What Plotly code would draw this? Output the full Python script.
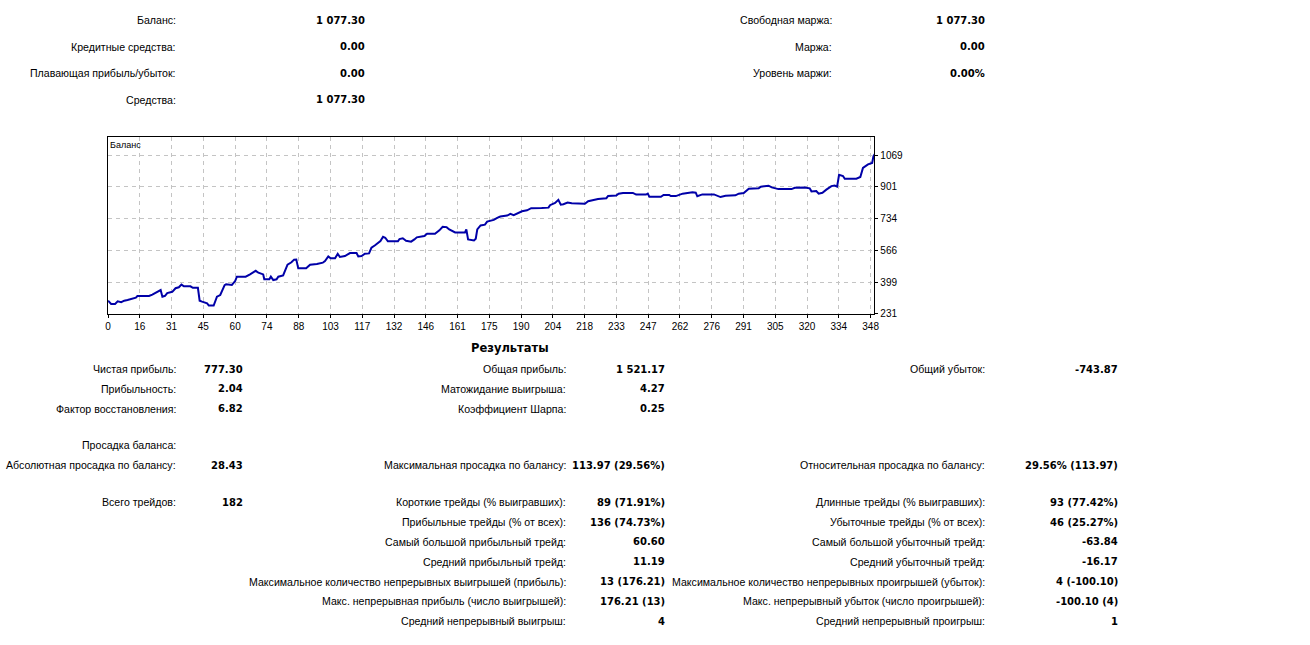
import plotly.graph_objects as go

# balance curve (trade index, balance)
trade_no = [0, 1.4, 3.2, 4.4, 6.0, 7.4, 8.9, 11.2, 12.7, 13.4, 18.7, 20.2, 22.5, 24.0, 24.8,
            26.0, 27.0, 29.3, 30.8, 32.3, 33.5, 34.6, 37.6, 38.7, 41.0, 41.8, 42.9, 45.2,
            46.0, 48.2, 49.7, 51.2, 53.2, 53.9, 56.5, 58.0, 58.8, 62.8, 64.8, 67.4, 68.6,
            70.8, 71.3, 73.6, 74.3, 75.4, 76.9, 77.7, 79.9, 81.1, 81.9, 83.7, 84.9, 85.9,
            86.8, 90.4, 92.2, 95.3, 98.0, 99.0, 100.5, 101.6, 103.6, 104.8, 105.8, 108.1,
            110.4, 113.4, 114.2, 115.7, 117.2, 119.1, 120.2, 121.7, 123.2, 124.3, 125.5,
            126.5, 127.7, 132.3, 133.0, 134.5, 136.0, 138.3, 139.8, 140.9, 144.3, 145.6,
            149.2, 151.2, 152.7, 154.5, 155.7, 158.4, 162.9, 163.5, 164.3, 167.0, 167.8,
            168.5, 170.0, 172.0, 173.0, 174.5, 176.0, 177.6, 179.0, 182.1, 183.6, 185.1,
            186.6, 188.9, 191.2, 193.1, 197.9, 201.0, 201.7, 204.0, 205.5, 206.6, 207.8,
            209.7, 211.6, 217.6, 219.1, 222.1, 223.6, 227.4, 228.2, 231.9, 233.0, 235.0,
            239.5, 241.0, 245.5, 246.3, 247.0, 252.3, 253.5, 256.1, 256.8, 259.1, 262.2,
            266.7, 268.2, 268.9, 271.2, 276.5, 278.0, 279.5, 281.8, 286.3, 287.8, 290.1,
            292.4, 296.9, 297.9, 301.4, 302.9, 305.9, 311.9, 313.4, 317.9, 320.2, 321.0,
            323.2, 324.3, 326.0, 327.8, 330.1, 331.6, 332.7, 333.6, 335.4, 336.2, 341.5,
            343.3, 344.5, 346.8, 348.7, 349.3, 350.0]
balance = [300, 283, 283, 297, 292, 300, 304, 312, 316, 325, 325, 332, 349, 356, 321,
           326, 340, 347, 366, 371, 385, 376, 376, 368, 368, 300, 295, 286,
           274, 274, 321, 330, 382, 387, 383, 404, 427, 427, 439, 458, 448,
           439, 413, 413, 427, 409, 413, 427, 434, 465, 491, 503, 517, 518,
           471, 471, 490, 494, 501, 510, 534, 524, 524, 548, 531, 536,
           552, 552, 534, 536, 548, 550, 580, 592, 607, 615, 638,
           633, 614, 614, 626, 630, 617, 612, 624, 635, 642, 654,
           654, 672, 691, 689, 677, 661, 661, 677, 624, 619, 628,
           677, 698, 702, 718, 723, 727, 738, 745, 750, 759, 752,
           760, 773, 778, 789, 790, 792, 805, 817, 833, 808, 810,
           819, 815, 813, 826, 833, 838, 842, 854, 856, 866, 870,
           870, 861, 861, 866, 850, 849, 859, 859, 853, 853, 866,
           873, 871, 852, 862, 862, 853, 848, 855, 857, 866, 869,
           892, 894, 903, 908, 899, 890, 890, 897, 899, 894, 878,
           880, 866, 871, 887, 906, 909, 903, 966, 959, 945, 945,
           954, 1002, 1021, 1028, 1064, 1077]

x_tick_labels = ["0", "16", "31", "45", "60", "74", "88", "103", "117", "132", "146", "161",
                 "175", "190", "204", "218", "233", "247", "262", "276", "291", "305", "320",
                 "334", "348"]
y_tick_labels = ["231", "399", "566", "734", "901", "1069"]

# account summary
acc_left_labels = ["Баланс:", "Кредитные средства:", "Плавающая прибыль/убыток:", "Средства:"]
acc_left_values = ["1 077.30", "0.00", "0.00", "1 077.30"]
acc_right_labels = ["Свободная маржа:", "Маржа:", "Уровень маржи:"]
acc_right_values = ["1 077.30", "0.00", "0.00%"]

# results, three columns; None = empty cell
res_rows = [
    ("Чистая прибыль:", "777.30", "Общая прибыль:", "1 521.17", "Общий убыток:", "-743.87"),
    ("Прибыльность:", "2.04", "Матожидание выигрыша:", "4.27", None, None),
    ("Фактор восстановления:", "6.82", "Коэффициент Шарпа:", "0.25", None, None),
    ("Просадка баланса:", None, None, None, None, None),
    ("Абсолютная просадка по балансу:", "28.43", "Максимальная просадка по балансу:",
     "113.97 (29.56%)", "Относительная просадка по балансу:", "29.56% (113.97)"),
    ("Всего трейдов:", "182", "Короткие трейды (% выигравших):", "89 (71.91%)",
     "Длинные трейды (% выигравших):", "93 (77.42%)"),
    (None, None, "Прибыльные трейды (% от всех):", "136 (74.73%)",
     "Убыточные трейды (% от всех):", "46 (25.27%)"),
    (None, None, "Самый большой прибыльный трейд:", "60.60",
     "Самый большой убыточный трейд:", "-63.84"),
    (None, None, "Средний прибыльный трейд:", "11.19", "Средний убыточный трейд:", "-16.17"),
    (None, None, "Максимальное количество непрерывных выигрышей (прибыль):", "13 (176.21)",
     "Максимальное количество непрерывных проигрышей (убыток):", "4 (-100.10)"),
    (None, None, "Макс. непрерывная прибыль (число выигрышей):", "176.21 (13)",
     "Макс. непрерывный убыток (число проигрышей):", "-100.10 (4)"),
    (None, None, "Средний непрерывный выигрыш:", "4", "Средний непрерывный проигрыш:", "1"),
]

W, H = 1310, 645
FONT = "Liberation Sans, Arial, sans-serif"
BOLD_FONT = "DejaVu Sans, Verdana, sans-serif"

x_step = 14.5
y_step = 167.6
x_ticks = [i * x_step for i in range(len(x_tick_labels))]
y_ticks = [231 + i * y_step for i in range(len(y_tick_labels))]

fig = go.Figure()
fig.add_trace(go.Scatter(x=trade_no, y=balance, mode="lines",
                         line=dict(color="#0000a8", width=2), hoverinfo="skip"))

ann = []


def txt(px, py, s, bold=False, anchor="right", size=None):
    if bold:
        f = dict(family=BOLD_FONT, size=size or 10, color="black")
        s = f"<b>{s}</b>"
    else:
        f = dict(family=FONT, size=size or 10.6, color="black")
    ann.append(dict(x=px / W, y=1 - py / H, xref="paper", yref="paper",
                    text=s, showarrow=False, borderpad=0, borderwidth=0,
                    xanchor=anchor, yanchor="middle", font=f))


for i, (lab, val) in enumerate(zip(acc_left_labels, acc_left_values)):
    txt(174, 20.5 + 26.7 * i, lab)
    txt(364, 20.5 + 26.7 * i, val, bold=True)
for i, (lab, val) in enumerate(zip(acc_right_labels, acc_right_values)):
    txt(834, 20.5 + 26.7 * i, lab)
    txt(988, 20.5 + 26.7 * i, val, bold=True)

txt(510, 351, "Результаты", bold=True, anchor="center", size=11.5)

row_y = [372.5, 392.5, 412.5, 449.5, 469.5, 507, 527, 547, 567, 587, 607, 627]
col_x = [174, 241, 566, 666, 988, 1122]
for ry, row in zip(row_y, res_rows):
    for j, cell in enumerate(row):
        if cell is not None:
            txt(col_x[j], ry, cell, bold=(j % 2 == 1))

# chart caption inside the plot
txt(108, 146, "Баланс", anchor="left", size=9)

grid = dict(showgrid=True, gridcolor="#c4c4c4", griddash="4px,4px", gridwidth=1,
            showline=True, linecolor="black", linewidth=1, mirror=True,
            ticks="outside", ticklen=3, tickcolor="black",
            zeroline=False, tickfont=dict(size=10))

fig.update_layout(
    width=W, height=H, autosize=False,
    margin=dict(l=0, r=0, t=0, b=0),
    paper_bgcolor="white", plot_bgcolor="white",
    showlegend=False,
    annotations=ann,
    font=dict(family=FONT, size=10, color="black"),
    xaxis=dict(domain=[105.7 / W, 876.7 / W], range=[0, 349.7],
               tickvals=x_ticks, ticktext=x_tick_labels, **grid),
    yaxis=dict(domain=[1 - 316.7 / H, 1 - 138 / H], range=[231, 1167],
               side="right", tickvals=y_ticks, ticktext=y_tick_labels, **grid),
)

fig.write_html("out.html", config={"displayModeBar": False},
               post_script="document.body.style.margin='0';"
                           "document.documentElement.style.overflow='hidden';")
